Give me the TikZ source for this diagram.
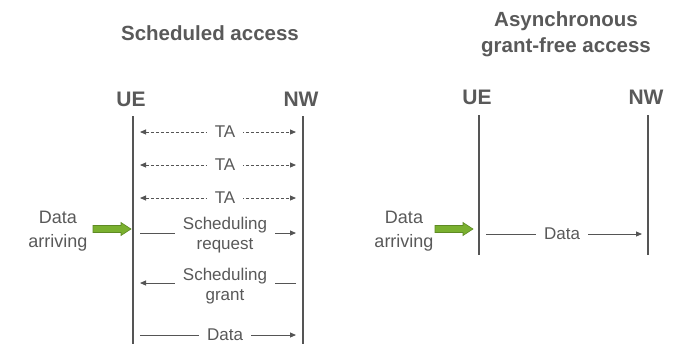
\documentclass[tikz,border=0pt]{standalone}
\usepackage{fontspec}
\setmainfont{Liberation Sans}
\usetikzlibrary{arrows.meta}
\definecolor{txt}{HTML}{595959}
\definecolor{ln}{HTML}{555555}
\definecolor{grn}{HTML}{7AB02F}
\definecolor{grnd}{HTML}{5E8A24}

\begin{document}
\begin{tikzpicture}[x=1pt,y=-1pt,
  title/.style={font=\fontsize{20.5}{26}\selectfont\bfseries, text=txt, align=center},
  actor/.style={font=\fontsize{21}{24}\selectfont\bfseries, text=txt, inner sep=1pt},
  note/.style={font=\fontsize{18}{24}\selectfont, text=txt, align=center, inner sep=1pt},
  msglabel/.style={font=\fontsize{17}{19.5}\selectfont, text=txt, fill=white, inner xsep=8pt, inner ysep=1pt, align=center},
  lifeline/.style={draw=ln, line width=2pt},
  msg/.style={draw=ln, line width=0.9pt, -{Triangle[length=6pt,width=5pt]}},
  tamsg/.style={draw=ln, line width=0.9pt, dash pattern=on 3pt off 2pt,
    {Triangle[length=6pt,width=5pt]}-{Triangle[length=6pt,width=5pt]}},
  pics/arrival/.style={code={
    \filldraw[fill=grn, draw=grnd, line width=0.6pt]
      (-38,-3.5) -- (-10,-3.5) -- (-10,-6.5) -- (0,0) -- (-10,6.5)
      -- (-10,3.5) -- (-38,3.5) -- cycle;}}
]
\useasboundingbox (0,0) rectangle (674,346);

% ---------------- Scheduled access ----------------
\node[title] (t1) at (210,33) {Scheduled access};
\node[actor] (ue1) at (131,99) {UE};
\node[actor] (nw1) at (301,99) {NW};
\coordinate (ue1top) at (133,116);
\coordinate (ue1bot) at (133,344);
\coordinate (nw1top) at (303,116);
\coordinate (nw1bot) at (303,344);
\path[lifeline] (ue1top) -- (ue1bot);
\path[lifeline] (nw1top) -- (nw1bot);

% timing advance exchanges
\foreach \i/\yy in {1/132,2/165,3/198}{
  \coordinate (ta\i l) at (140,\yy);
  \coordinate (ta\i r) at (296,\yy);
  \path[tamsg] (ta\i l) -- (ta\i r);
  \node[msglabel] (ta\i) at (225,\yy) {TA};
}

% scheduling request
\coordinate (srl) at (140,233);
\coordinate (srr) at (296,233);
\path[msg] (srl) -- (srr);
\node[msglabel] (sr) at (225,235) {Scheduling\\request};

% scheduling grant
\coordinate (sgl) at (140,283);
\coordinate (sgr) at (296,283);
\path[msg] (sgr) -- (sgl);
\node[msglabel] (sg) at (225,286) {Scheduling\\grant};

% data
\coordinate (d1l) at (140,335);
\coordinate (d1r) at (296,335);
\path[msg] (d1l) -- (d1r);
\node[msglabel] (d1) at (225,335) {Data};

% data arrival
\node[note] (da1) at (58,231) {Data\\arriving};
\coordinate (ga1) at (131,229);
\pic at (ga1) {arrival};

% ---------------- Grant-free access ----------------
\node[title] (t2) at (566,34) {Asynchronous\\grant-free access};
\node[actor] (ue2) at (477,97) {UE};
\node[actor] (nw2) at (646,97) {NW};
\coordinate (ue2top) at (479,115);
\coordinate (ue2bot) at (479,255);
\coordinate (nw2top) at (648,115);
\coordinate (nw2bot) at (648,255);
\path[lifeline] (ue2top) -- (ue2bot);
\path[lifeline] (nw2top) -- (nw2bot);

\coordinate (d2l) at (486,234);
\coordinate (d2r) at (642,234);
\path[msg] (d2l) -- (d2r);
\node[msglabel] (d2) at (562,234) {Data};

\node[note] (da2) at (404,231) {Data\\arriving};
\coordinate (ga2) at (473,229);
\pic at (ga2) {arrival};
\end{tikzpicture}
\end{document}
